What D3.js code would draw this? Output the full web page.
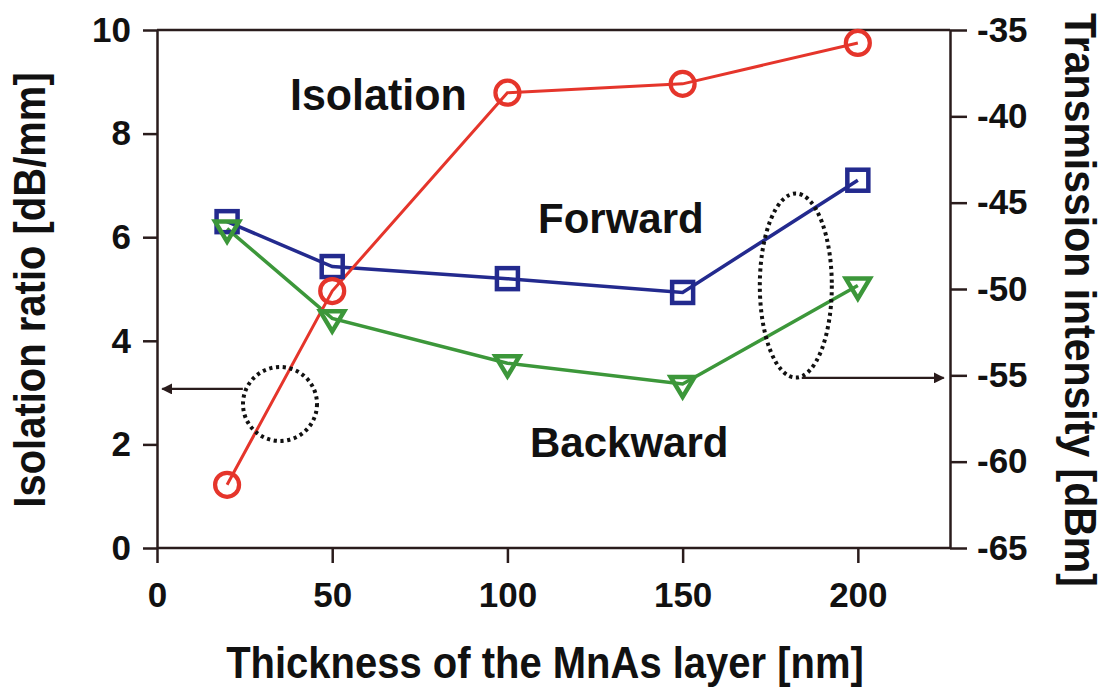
<!DOCTYPE html>
<html>
<head>
<meta charset="utf-8">
<script src="https://cdn.jsdelivr.net/npm/d3@7"></script>
<style>
  body { margin: 0; background: #fff; }
  svg text { font-family: "Liberation Sans", Arial, sans-serif; font-weight: bold; fill: #111; }
</style>
</head>
<body>
<div id="chart"></div>
<script>
// data
var thickness = [20, 50, 100, 150, 200];              // nm
var isolation = [1.22, 4.96, 8.79, 8.96, 9.75];       // dB/mm (left axis)
var forward   = [-46.1, -48.7, -49.4, -50.2, -43.7];  // dBm (right axis)
var backward  = [-46.5, -51.7, -54.3, -55.5, -49.8];  // dBm (right axis)

var xTicks  = [0, 50, 100, 150, 200];
var yLTicks = [0, 2, 4, 6, 8, 10];
var yRTicks = [-65, -60, -55, -50, -45, -40, -35];

var W = 1108, H = 692;
var axisCol = "#2a1c1c";
var red = "#e5352b", blue = "#232a8e", green = "#3c973a";

var svg = d3.select("#chart").append("svg")
    .attr("width", W)
    .attr("height", H);

var x  = d3.scaleLinear().domain([0, 226.3]).range([157, 950]);
var yL = d3.scaleLinear().domain([0, 10]).range([548, 30]);
var yR = d3.scaleLinear().domain([-65, -35]).range([548, 30]);

// arrowhead
svg.append("defs").append("marker")
    .attr("id", "arrow")
    .attr("viewBox", "0 0 10 10")
    .attr("refX", 9)
    .attr("refY", 5)
    .attr("markerWidth", 5)
    .attr("markerHeight", 5)
    .attr("orient", "auto")
    .append("path")
    .attr("d", "M0,0 L10,5 L0,10 Z")
    .attr("fill", axisCol);

// frame top
svg.append("line")
    .attr("x1", x.range()[0]).attr("x2", x.range()[1])
    .attr("y1", yL.range()[1]).attr("y2", yL.range()[1])
    .attr("stroke", axisCol).attr("stroke-width", 2.5);

var xAxis = svg.append("g")
    .attr("transform", "translate(0," + yL.range()[0] + ")")
    .call(d3.axisBottom(x).tickValues(xTicks).tickSize(15).tickSizeOuter(0).tickPadding(19));

var leftAxis = svg.append("g")
    .attr("transform", "translate(" + x.range()[0] + ",0)")
    .call(d3.axisLeft(yL).tickValues(yLTicks).tickSize(14).tickSizeOuter(0).tickPadding(12));

var rightAxis = svg.append("g")
    .attr("transform", "translate(" + x.range()[1] + ",0)")
    .call(d3.axisRight(yR).tickValues(yRTicks).tickSize(17).tickSizeOuter(0).tickPadding(10));

[xAxis, leftAxis, rightAxis].forEach(function(g) {
    g.selectAll("path, line").attr("stroke", axisCol).attr("stroke-width", 2.5);
    g.selectAll("text")
        .style("font-size", "35px")
        .style("font-family", "'Liberation Sans', Arial, sans-serif")
        .style("font-weight", "bold")
        .attr("fill", "#111");
});
// bottom line spans the whole plot
xAxis.select(".domain").attr("d", "M" + x.range()[0] + ",0H" + x.range()[1]);
rightAxis.selectAll(".tick text").text(function(d) { return d; });

// axis titles (glyphs in the scan are a bit taller than wide)
svg.append("text")
    .attr("transform", "translate(45,290) rotate(-90) scale(1,1.12)")
    .attr("text-anchor", "middle")
    .style("font-size", "40px")
    .text("Isolation ratio [dB/mm]");

svg.append("text")
    .attr("transform", "translate(1065,300) rotate(90) scale(1,1.1)")
    .attr("text-anchor", "middle")
    .style("font-size", "41px")
    .text("Transmission intensity [dBm]");

svg.append("text")
    .attr("transform", "translate(545,678) scale(1,1.12)")
    .attr("text-anchor", "middle")
    .style("font-size", "40px")
    .text("Thickness of the MnAs layer [nm]");

// series lines
function drawLine(vals, yScale, col, w) {
    var pts = thickness.map(function(t, i) { return [t, vals[i]]; });
    svg.append("path")
        .datum(pts)
        .attr("fill", "none")
        .attr("stroke", col)
        .attr("stroke-width", w)
        .attr("d", d3.line().x(function(d) { return x(d[0]); }).y(function(d) { return yScale(d[1]); }));
    return pts;
}

var fPts = drawLine(forward, yR, blue, 3.5);
var bPts = drawLine(backward, yR, green, 3.5);
var iPts = drawLine(isolation, yL, red, 3);

// markers
svg.selectAll(".sq").data(fPts).enter().append("rect")
    .attr("x", function(d) { return x(d[0]) - 10.5; })
    .attr("y", function(d) { return yR(d[1]) - 10.5; })
    .attr("width", 21).attr("height", 21)
    .attr("fill", "none").attr("stroke", blue).attr("stroke-width", 4.5);

svg.selectAll(".tri").data(bPts).enter().append("path")
    .attr("transform", function(d) { return "translate(" + x(d[0]) + "," + yR(d[1]) + ")"; })
    .attr("d", "M-12,-7 L12,-7 L0,13 Z")
    .attr("fill", "none").attr("stroke", green).attr("stroke-width", 4.5)
    .attr("stroke-linejoin", "miter");

svg.selectAll(".circ").data(iPts).enter().append("circle")
    .attr("cx", function(d) { return x(d[0]); })
    .attr("cy", function(d) { return yL(d[1]); })
    .attr("r", 12)
    .attr("fill", "none").attr("stroke", red).attr("stroke-width", 4.2);

// annotations: dotted circle + arrow to left axis, dotted ellipse + arrow to right axis
svg.append("circle")
    .attr("cx", x(35.1)).attr("cy", yL(2.78)).attr("r", 37)
    .attr("fill", "none").attr("stroke", "#111")
    .attr("stroke-width", 4).attr("stroke-dasharray", "3.2 3.6");

svg.append("line")
    .attr("x1", x(24.5)).attr("x2", x(1.5))
    .attr("y1", yL(3.07)).attr("y2", yL(3.07))
    .attr("stroke", axisCol).attr("stroke-width", 2.2)
    .attr("marker-end", "url(#arrow)");

svg.append("ellipse")
    .attr("cx", x(182.3)).attr("cy", yR(-49.8)).attr("rx", 36).attr("ry", 92)
    .attr("fill", "none").attr("stroke", "#111")
    .attr("stroke-width", 4).attr("stroke-dasharray", "3.2 3.6");

svg.append("line")
    .attr("x1", x(184)).attr("x2", x(224.5))
    .attr("y1", yR(-55.15)).attr("y2", yR(-55.15))
    .attr("stroke", axisCol).attr("stroke-width", 2.2)
    .attr("marker-end", "url(#arrow)");

// in-plot labels
svg.append("text").attr("transform", "translate(290,110) scale(1,1.05)").style("font-size", "43px").text("Isolation");
svg.append("text").attr("x", 538).attr("y", 233).style("font-size", "42px").text("Forward");
svg.append("text").attr("x", 530).attr("y", 457).style("font-size", "42px").text("Backward");
</script>
</body>
</html>
